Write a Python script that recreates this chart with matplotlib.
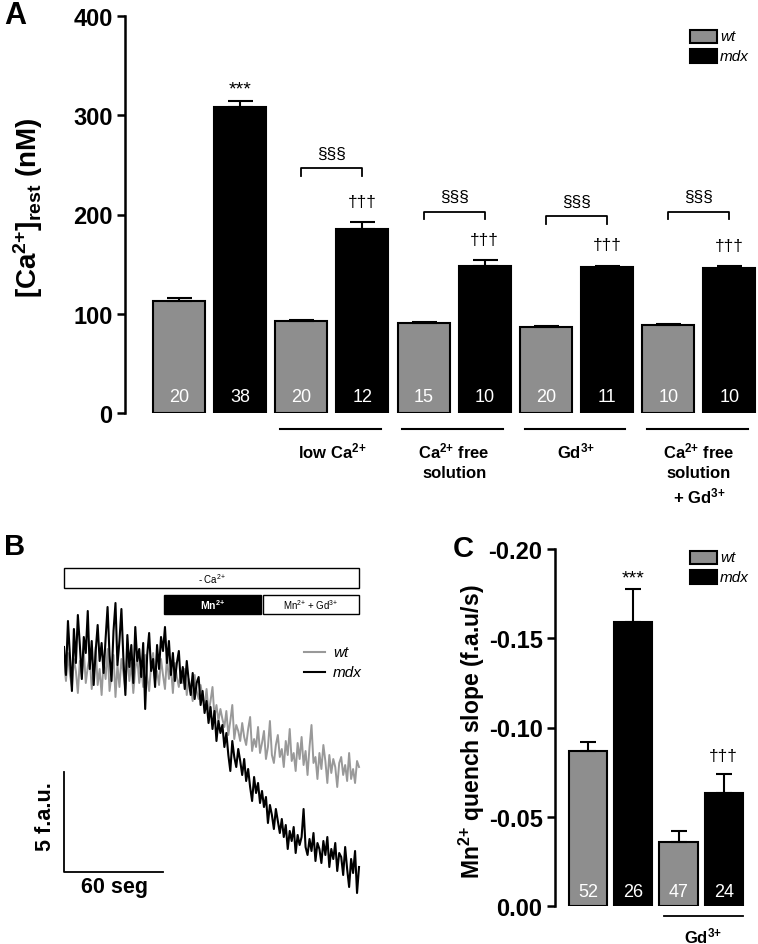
import matplotlib
matplotlib.use("Agg")
import matplotlib.pyplot as plt
from matplotlib.patches import Rectangle

plt.rcParams['font.family'] = ['Liberation Sans', 'DejaVu Sans']
plt.rcParams['mathtext.default'] = 'regular'

# ---- panel A: resting Ca2+ ----
ca_wt = [113, 93, 91, 86.5, 88.5]
ca_mdx = [308, 185, 148, 147, 146]
ca_wt_err = [2.5, 1, 1, 1, 1]
ca_mdx_err = [6, 7, 6, 1.5, 2]
ca_wt_n = ["20", "20", "15", "20", "10"]
ca_mdx_n = ["38", "12", "10", "11", "10"]
ca_ticklabels = ["0", "100", "200", "300", "400"]
conditions = ["", "low Ca$^{2{+}}$", "Ca$^{2{+}}$ free\nsolution", "Gd$^{3{+}}$",
              "Ca$^{2{+}}$ free\nsolution\n+ Gd$^{3{+}}$"]
mdx_marks = ["***", "\u2020\u2020\u2020", "\u2020\u2020\u2020", "\u2020\u2020\u2020", "\u2020\u2020\u2020"]

# ---- panel C: Mn2+ quench slope ----
mn_wt = [-0.087, -0.036]
mn_mdx = [-0.159, -0.0635]
mn_wt_err = [0.005, 0.006]
mn_mdx_err = [0.0185, 0.0105]
mn_wt_n = ["52", "47"]
mn_mdx_n = ["26", "24"]
mn_ticklabels = ["0.00", "-0.05", "-0.10", "-0.15", "-0.20"]

# ---- panel B: Mn2+ quench traces (f.a.u., one sample every 1.2 s) ----
trace_mdx = [12.6, 11.2, 13.9, 12.1, 10.4, 13.5, 11.8, 14.2, 12.7, 11.0,
             13.1, 12.3, 14.4, 11.5, 12.9, 10.7, 12.4, 13.7, 11.9, 12.8,
             11.3, 13.0, 14.6, 12.2, 10.9, 13.4, 14.8, 11.7, 12.9, 14.5,
             12.0, 10.2, 13.2, 11.6, 12.7, 10.8, 13.6, 11.9, 12.5, 11.1,
             12.8, 9.5, 12.2, 13.3, 11.4, 12.0, 10.6, 12.7, 11.5, 13.1,
             12.4, 13.6, 11.8, 12.9, 11.2, 12.3, 10.9, 11.8, 12.4, 10.8,
             11.6, 10.5, 11.9, 10.9, 10.2, 11.3, 10.0, 10.8, 11.1, 9.7,
             10.4, 9.3, 9.9, 8.8, 9.6, 8.5, 9.4, 7.9, 8.9, 8.3,
             8.7, 7.6, 8.3, 7.2, 6.4, 7.9, 7.1, 6.6, 7.5, 6.9,
             6.2, 7.0, 5.9, 6.5, 5.6, 4.9, 6.1, 5.3, 5.8, 4.8,
             5.4, 4.6, 5.1, 3.8, 4.7, 4.2, 3.5, 4.5, 3.9, 3.3,
             4.0, 3.1, 3.7, 2.5, 3.4, 2.9, 3.6, 2.3, 3.2, 2.7,
             3.1, 4.5, 2.6, 2.2, 3.0, 2.4, 3.3, 1.9, 2.8, 2.5,
             1.8, 2.9, 2.2, 3.1, 1.6, 2.5, 2.0, 2.8, 1.4, 2.3,
             2.1, 1.2, 2.6, 1.5, 0.6, 2.0, 1.3, 2.4, 0.3, 1.6]
trace_wt = [11.8, 10.9, 12.3, 11.2, 10.6, 12.0, 11.4, 10.3, 11.9, 11.1,
            12.4, 10.8, 11.6, 12.1, 10.5, 11.3, 12.6, 10.7, 11.5, 10.2,
            11.9, 11.0, 12.5, 10.4, 11.2, 12.2, 10.1, 11.7, 10.6, 12.0,
            11.3, 10.5, 12.4, 10.9, 11.8, 10.3, 11.5, 12.1, 10.8, 11.6,
            10.6, 12.2, 11.1, 10.4, 11.7, 12.3, 10.9, 11.4, 10.7, 12.0,
            11.2, 10.5, 12.1, 11.0, 11.6, 10.3, 11.8, 11.1, 10.6, 11.4,
            10.8, 11.5, 10.2, 11.0, 10.6, 9.9, 11.2, 10.4, 10.0, 10.7,
            10.1, 9.6, 10.5, 9.3, 9.9, 10.6, 9.1, 9.7, 8.9, 9.5,
            9.0, 8.6, 9.4, 8.2, 8.9, 9.7, 8.0, 8.7, 8.4, 7.9,
            8.8, 8.1, 7.7, 8.5, 9.1, 7.4, 8.0, 7.6, 8.6, 7.3,
            7.8, 8.4, 7.0, 7.6, 8.9, 7.2, 6.8, 7.7, 8.2, 7.1,
            7.5, 6.6, 7.9, 7.2, 8.5, 6.9, 7.3, 6.4, 7.8, 7.0,
            8.1, 6.7, 7.4, 6.2, 7.6, 8.7, 6.8, 7.1, 6.0, 7.3,
            6.5, 7.7, 6.9, 5.8, 7.2, 6.3, 7.0, 6.6, 5.6, 6.8,
            7.1, 6.2, 6.7, 5.9, 7.3, 6.0, 6.5, 5.8, 6.9, 6.6]

GRAY = '#8e8e8e'
W, H = 758, 945


def fbox(x0, y0, x1, y1):
    # pixel box -> figure fraction [left, bottom, width, height]
    return [x0 / W, 1 - y1 / H, (x1 - x0) / W, (y1 - y0) / H]


fig = plt.figure(figsize=(W / 100, H / 100), dpi=100)


def style_axis(ax, ticks, labels):
    for s in ['top', 'right', 'bottom']:
        ax.spines[s].set_visible(False)
    ax.spines['left'].set_linewidth(1.8)
    ax.set_yticks(ticks)
    ax.set_yticklabels(labels, fontsize=17, fontweight='bold')
    ax.tick_params(axis='y', width=1.8, length=6, pad=3)
    ax.tick_params(axis='x', bottom=False, labelbottom=False)


def legend_boxes(x, y):
    fig.add_artist(Rectangle((x / W, 1 - (y + 13) / H), 27 / W, 13 / H, transform=fig.transFigure,
                             facecolor=GRAY, edgecolor='black', lw=1.5))
    fig.add_artist(Rectangle((x / W, 1 - (y + 33) / H), 27 / W, 14 / H, transform=fig.transFigure,
                             facecolor='black', edgecolor='black', lw=1.5))
    fig.text((x + 30) / W, 1 - (y + 6) / H, "wt", style='italic', fontsize=11, va='center')
    fig.text((x + 30) / W, 1 - (y + 26) / H, "mdx", style='italic', fontsize=11, va='center')


# ================= panel A =================
axA = fig.add_axes(fbox(125, 17, 757, 414))
xw = [2 * i for i in range(5)]
xm = [2 * i + 1 for i in range(5)]
axA.bar(xw, ca_wt, width=0.85, color=GRAY, edgecolor='black', lw=1.5)
axA.bar(xm, ca_mdx, width=0.85, color='black', edgecolor='black', lw=1.5)
axA.errorbar(xw, ca_wt, yerr=[[0] * 5, ca_wt_err], fmt='none', ecolor='black', elinewidth=1.5, capsize=9, capthick=1.5)
axA.errorbar(xm, ca_mdx, yerr=[[0] * 5, ca_mdx_err], fmt='none', ecolor='black', elinewidth=1.5, capsize=9, capthick=1.5)
axA.set_xlim(-0.88, 9.45)
axA.set_ylim(0, 400)
style_axis(axA, [0, 100, 200, 300, 400], ca_ticklabels)

for i in range(5):
    axA.text(xw[i], 17, ca_wt_n[i], color='white', ha='center', va='center', fontsize=13)
    axA.text(xm[i], 17, ca_mdx_n[i], color='white', ha='center', va='center', fontsize=13)
    top = ca_mdx[i] + ca_mdx_err[i]
    if i == 0:
        axA.text(xm[i], top + 12, mdx_marks[i], ha='center', va='center', fontsize=14)
    else:
        axA.text(xm[i], top + 21, mdx_marks[i], ha='center', va='center', fontsize=12.5)

bracket_y = [247, 203, 198, 203]
for g in range(1, 5):
    by = bracket_y[g - 1]
    axA.plot([xw[g], xw[g], xm[g], xm[g]], [by - 8, by, by, by - 8], color='black', lw=1.3)
    axA.text((xw[g] + xm[g]) / 2, by + 15, "\u00a7\u00a7\u00a7", ha='center', va='center', fontsize=12.5)
    axA.plot([xw[g] - 0.35, xm[g] + 0.3], [-16, -16], color='black', lw=1.5, clip_on=False)
    axA.text((xw[g] + xm[g]) / 2, -28, conditions[g], ha='center', va='top', fontsize=12,
             fontweight='bold', linespacing=1.35)

fig.text(28 / W, 1 - 208 / H, "[Ca$^{2{+}}$]$_{rest}$ (nM)", rotation=90, ha='center', va='center',
         fontsize=20, fontweight='bold')
fig.text(4 / W, 1 - 16 / H, "A", fontsize=22, fontweight='bold', va='center')
legend_boxes(690, 31)

# ================= panel B =================
axB = fig.add_axes(fbox(64, 560, 361, 900))
axB.set_xlim(0, 180)
axB.set_ylim(0, 17)
axB.axis('off')
t = [1.2 * i for i in range(len(trace_wt))]
axB.plot(t, trace_wt, color='#999999', lw=1.4)
axB.plot(t, trace_mdx, color='black', lw=1.5)

axB.add_patch(Rectangle((0, 15.55), 179, 1.0, facecolor='white', edgecolor='black', lw=1.0, clip_on=False))
axB.add_patch(Rectangle((60.6, 14.25), 58.8, 0.95, facecolor='black', edgecolor='black', lw=1.0, clip_on=False))
axB.add_patch(Rectangle((120.6, 14.25), 58.4, 0.95, facecolor='white', edgecolor='black', lw=1.0, clip_on=False))
axB.text(89.5, 16.05, "- Ca$^{2{+}}$", ha='center', va='center', fontsize=7)
axB.text(90, 14.72, "Mn$^{2{+}}$", ha='center', va='center', fontsize=7.5, color='white', fontweight='bold')
axB.text(149.8, 14.72, "Mn$^{2{+}}$ + Gd$^{3{+}}$", ha='center', va='center', fontsize=7)

# scale bars
axB.plot([0, 0, 60], [6.35, 1.35, 1.35], color='black', lw=1.3, clip_on=False)
axB.text(-11.5, 4.15, "5 f.a.u.", rotation=90, ha='center', va='center', fontsize=15.5, fontweight='bold')
axB.text(30.5, 0.6, "60 seg", ha='center', va='center', fontsize=15.5, fontweight='bold')

# trace legend
axB.plot([145.5, 158.2], [12.35, 12.35], color='#999999', lw=1.5)
axB.plot([145.5, 158.2], [11.35, 11.35], color='black', lw=1.5)
axB.text(163, 12.35, "wt", style='italic', fontsize=11, va='center')
axB.text(163, 11.35, "mdx", style='italic', fontsize=11, va='center')
fig.text(4 / W, 1 - 547 / H, "B", fontsize=21, fontweight='bold', va='center')

# ================= panel C =================
axC = fig.add_axes(fbox(555, 550, 745, 907))
cw = [0, 2]
cm = [1, 3]
axC.bar(cw, mn_wt, width=0.85, color=GRAY, edgecolor='black', lw=1.5)
axC.bar(cm, mn_mdx, width=0.85, color='black', edgecolor='black', lw=1.5)
axC.errorbar(cw, mn_wt, yerr=[mn_wt_err, [0, 0]], fmt='none', ecolor='black', elinewidth=1.5, capsize=5.5, capthick=1.5)
axC.errorbar(cm, mn_mdx, yerr=[mn_mdx_err, [0, 0]], fmt='none', ecolor='black', elinewidth=1.5, capsize=5.5, capthick=1.5)
axC.set_xlim(-0.73, 3.47)
axC.set_ylim(0, -0.20)
style_axis(axC, [0, -0.05, -0.10, -0.15, -0.20], mn_ticklabels)

for i in range(2):
    axC.text(cw[i], -0.0079, mn_wt_n[i], color='white', ha='center', va='center', fontsize=13)
    axC.text(cm[i], -0.0079, mn_mdx_n[i], color='white', ha='center', va='center', fontsize=13)
axC.text(1, -0.184, "***", ha='center', va='center', fontsize=14)
axC.text(3, -0.0843, "\u2020\u2020\u2020", ha='center', va='center', fontsize=12.5)
axC.plot([1.68, 3.43], [0.0056, 0.0056], color='black', lw=1.3, clip_on=False)
axC.text(2.55, 0.0165, "Gd$^{3{+}}$", ha='center', va='center', fontsize=12, fontweight='bold')

fig.text(472 / W, 1 - 732 / H, "Mn$^{2{+}}$ quench slope (f.a.u/s)", rotation=90, ha='center', va='center',
         fontsize=16.5, fontweight='bold')
fig.text(453 / W, 1 - 549 / H, "C", fontsize=21, fontweight='bold', va='center')
legend_boxes(690, 552)

fig.savefig("out.png", dpi=100)
